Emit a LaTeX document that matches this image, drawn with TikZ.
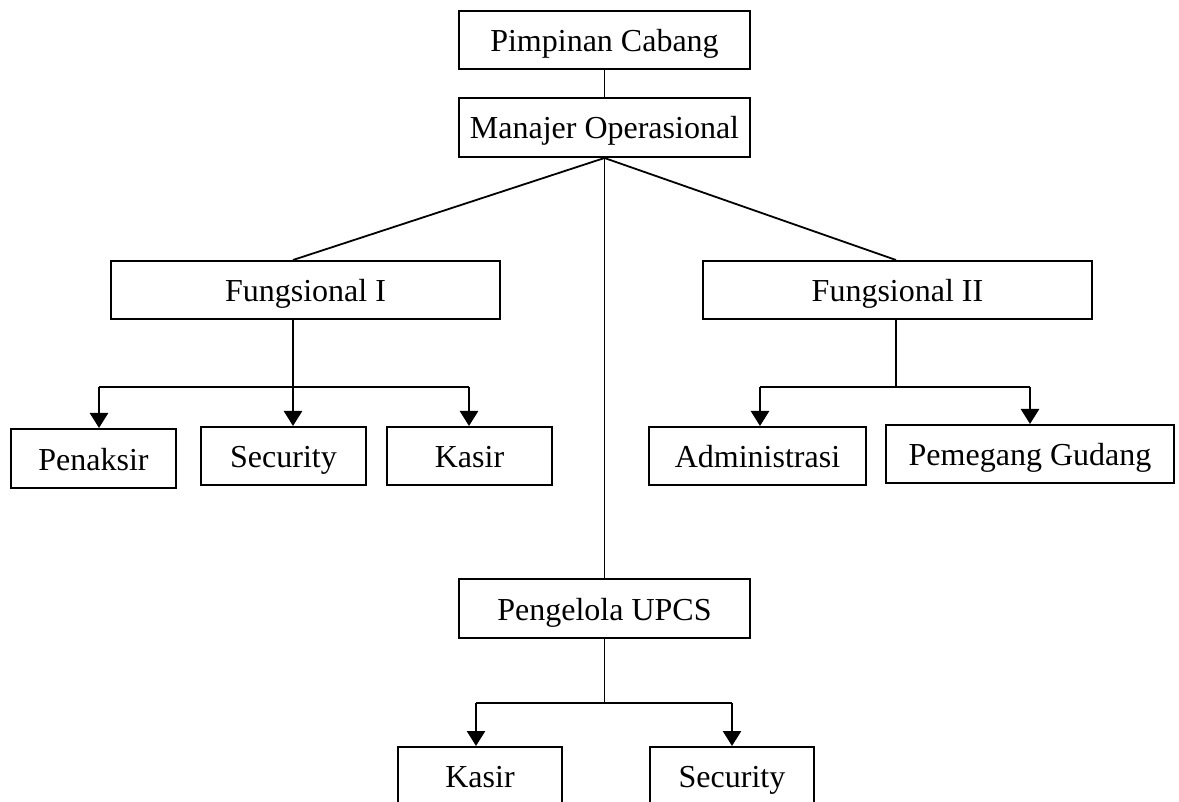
\documentclass[tikz,border=0pt]{standalone}
\usepackage{fontspec}
\setmainfont{Liberation Serif}
\usepackage{tikz}
\usetikzlibrary{arrows.meta}

\begin{document}
\begin{tikzpicture}[
  x=0.5pt, y=-0.5pt,
  font=\fontsize{16}{19}\selectfont,
  box/.style={rectangle,draw=black,line width=1pt,inner sep=0pt,text height=11.5pt,text depth=0pt,align=center},
  link/.style={line width=0.9pt},
  arrow/.style={-{Triangle[width=9pt,length=7.5pt]},line width=1.3pt}
]
  \useasboundingbox (0,0) rectangle (1179,802);
  \clip (0,0) rectangle (1179,802);

  % pimpinan
  \node[box,minimum width=145.5pt,minimum height=29pt] (pim) at (604.5,40) {Pimpinan Cabang};
  \node[box,minimum width=145.5pt,minimum height=29.5pt] (man) at (604.5,127.5) {Manajer Operasional};

  % fungsional
  \node[box,minimum width=194.5pt,minimum height=29pt] (fa) at (305.5,290) {Fungsional I};
  \node[box,minimum width=194.5pt,minimum height=29pt] (fb) at (897.5,290) {Fungsional II};

  % staf fungsional I
  \node[box,minimum width=82.5pt,minimum height=29.5pt] (pen) at (93.5,458.5) {Penaksir};
  \node[box,minimum width=82.5pt,minimum height=29pt] (seca) at (283.5,456) {Security};
  \node[box,minimum width=82.5pt,minimum height=29pt] (kasa) at (469.5,456) {Kasir};

  % staf fungsional II
  \node[box,minimum width=108.5pt,minimum height=29pt] (adm) at (757.5,456) {Administrasi};
  \node[box,minimum width=144pt,minimum height=29pt] (gud) at (1030,454) {Pemegang Gudang};

  % UPCS
  \node[box,minimum width=145.5pt,minimum height=29.5pt] (upcs) at (604.5,608.5) {Pengelola UPCS};
  \node[box,minimum width=82pt,minimum height=29pt] (kasb) at (480,776) {Kasir};
  \node[box,minimum width=82pt,minimum height=29pt] (secb) at (732,776) {Security};

  % junctions
  \coordinate (faj) at (293,387);
  \coordinate (fal) at (99,387);
  \coordinate (far) at (469,387);
  \coordinate (fbj) at (896,387);
  \coordinate (fbl) at (760,387);
  \coordinate (fbr) at (1030,387);
  \coordinate (uj) at (604.5,703);
  \coordinate (ul) at (476,703);
  \coordinate (ur) at (732,703);

  \draw[link] (pim) -- (man);
  \draw[link] (man.south) -- (faj |- fa.north);
  \draw[link] (man.south) -- (fbj |- fb.north);
  \draw[link] (man.south) -- (upcs.north);

  \draw[link] (faj |- fa.south) -- (faj);
  \draw[link] (fal) -- (far);
  \draw[arrow] (fal) -- (fal |- pen.north);
  \draw[arrow] (faj) -- (faj |- seca.north);
  \draw[arrow] (far) -- (far |- kasa.north);

  \draw[link] (fbj |- fb.south) -- (fbj);
  \draw[link] (fbl) -- (fbr);
  \draw[arrow] (fbl) -- (fbl |- adm.north);
  \draw[arrow] (fbr) -- (fbr |- gud.north);

  \draw[link] (upcs.south) -- (uj);
  \draw[link] (ul) -- (ur);
  \draw[arrow] (ul) -- (ul |- kasb.north);
  \draw[arrow] (ur) -- (ur |- secb.north);
\end{tikzpicture}
\end{document}
